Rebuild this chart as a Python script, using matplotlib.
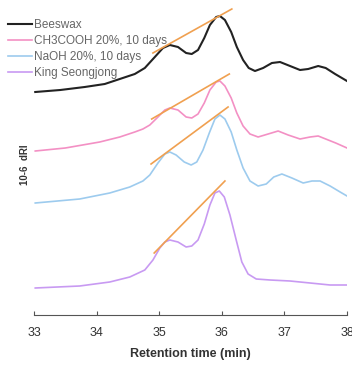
import matplotlib
matplotlib.use("Agg")
import matplotlib.pyplot as plt

# retention time (min) and detector signal (arbitrary dRI units, traces stacked)
t_bees = [33.02, 33.42, 33.81, 34.13, 34.37, 34.61, 34.77, 34.93, 35.06, 35.17, 35.30, 35.43,
          35.52, 35.62, 35.72, 35.81, 35.91, 35.97, 36.05, 36.15, 36.24, 36.34, 36.43, 36.53,
          36.66, 36.80, 36.93, 37.09, 37.25, 37.38, 37.54, 37.66, 37.81, 38.00]
y_bees = [223, 225, 228, 231, 236, 241, 247, 258, 267, 270, 268, 262,
          261, 265, 277, 290, 298, 299, 295, 283, 268, 255, 247, 244,
          247, 252, 253, 249, 245, 246, 249, 247, 241, 234]

t_acid = [33.02, 33.50, 34.05, 34.37, 34.61, 34.74, 34.85, 34.98, 35.09, 35.17, 35.30, 35.43,
          35.52, 35.62, 35.72, 35.81, 35.91, 35.97, 36.05, 36.15, 36.24, 36.34, 36.45, 36.58,
          36.74, 36.90, 37.06, 37.25, 37.41, 37.54, 37.66, 37.82, 38.00]
y_acid = [164, 167, 173, 178, 183, 186, 190, 198, 205, 207, 205, 198,
          197, 201, 212, 225, 233, 234, 229, 217, 202, 189, 181, 178,
          181, 184, 180, 176, 178, 179, 176, 172, 167]

t_naoh = [33.02, 33.73, 34.21, 34.53, 34.74, 34.85, 34.98, 35.09, 35.17, 35.27, 35.40, 35.51,
          35.60, 35.70, 35.80, 35.89, 35.97, 36.05, 36.15, 36.24, 36.34, 36.45, 36.58, 36.71,
          36.83, 36.96, 37.12, 37.30, 37.44, 37.57, 37.73, 37.89, 38.00]
y_naoh = [112, 116, 122, 128, 134, 140, 152, 161, 163, 160, 153, 150,
          153, 165, 182, 196, 200, 196, 183, 165, 147, 134, 129, 131,
          138, 141, 137, 132, 134, 134, 129, 123, 119]

t_king = [33.02, 33.73, 34.21, 34.53, 34.77, 34.90, 35.01, 35.09, 35.17, 35.30, 35.43, 35.52,
          35.62, 35.72, 35.81, 35.89, 35.96, 36.04, 36.13, 36.23, 36.32, 36.42, 36.55, 36.77,
          37.09, 37.41, 37.73, 38.00]
y_king = [27, 29, 33, 38, 45, 55, 67, 73, 75, 73, 68, 69,
          75, 91, 110, 122, 124, 118, 100, 75, 53, 41, 36, 35,
          34, 32, 30, 30]

# tangent lines over the two peaks
tan_t = [[34.90, 36.16], [34.88, 36.12], [34.87, 36.10], [34.92, 36.05]]
tan_y = [[262, 306], [196, 241], [151, 208], [62, 134]]

labels = ["Beeswax", "CH3COOH 20%, 10 days", "NaOH 20%, 10 days", "King Seongjong"]
colors = ["#222222", "#f390c4", "#9dcbee", "#c89af2"]

plt.rcParams['font.family'] = ['Liberation Sans', 'DejaVu Sans']

fig = plt.figure(figsize=(3.52, 3.65), dpi=100)
ax = fig.add_axes([34/352, 50/365, 313/352, 315/365])

series = [(t_bees, y_bees), (t_acid, y_acid), (t_naoh, y_naoh), (t_king, y_king)]
lines = []
for (t, y), c, lab in zip(series, colors, labels):
    lw = 1.5 if c == "#222222" else 1.2
    l, = ax.plot(t, y, color=c, lw=lw, label=lab)
    lines.append(l)

for tt, yy in zip(tan_t, tan_y):
    ax.plot(tt, yy, color="#f0a050", lw=1.2)

ax.set_xlim(33, 38)
ax.set_ylim(0, 315)
ax.set_xticks([33, 34, 35, 36, 37, 38])
ax.set_yticks([])
for s in ["top", "right", "left"]:
    ax.spines[s].set_visible(False)
ax.spines["bottom"].set_color("#555555")
ax.tick_params(axis="x", direction="in", length=3, color="#555555",
               labelsize=9, labelcolor="#333333", pad=9)
ax.set_xlabel("Retention time (min)", fontsize=9, color="#333333",
              fontweight="bold", labelpad=6)

fig.text(25/352, 1 - 165/365, "10-6  dRI", rotation=90, fontsize=7,
         fontweight="bold", color="#333333", ha="center", va="center")

fig.legend(handles=lines, loc="upper left", bbox_to_anchor=(8/352, 1 - 19/365),
           frameon=False, fontsize=8.5, labelcolor="#666666", handlelength=2.0,
           handletextpad=0.2, labelspacing=0.35, borderpad=0, borderaxespad=0)

fig.savefig("out.png", dpi=100)
